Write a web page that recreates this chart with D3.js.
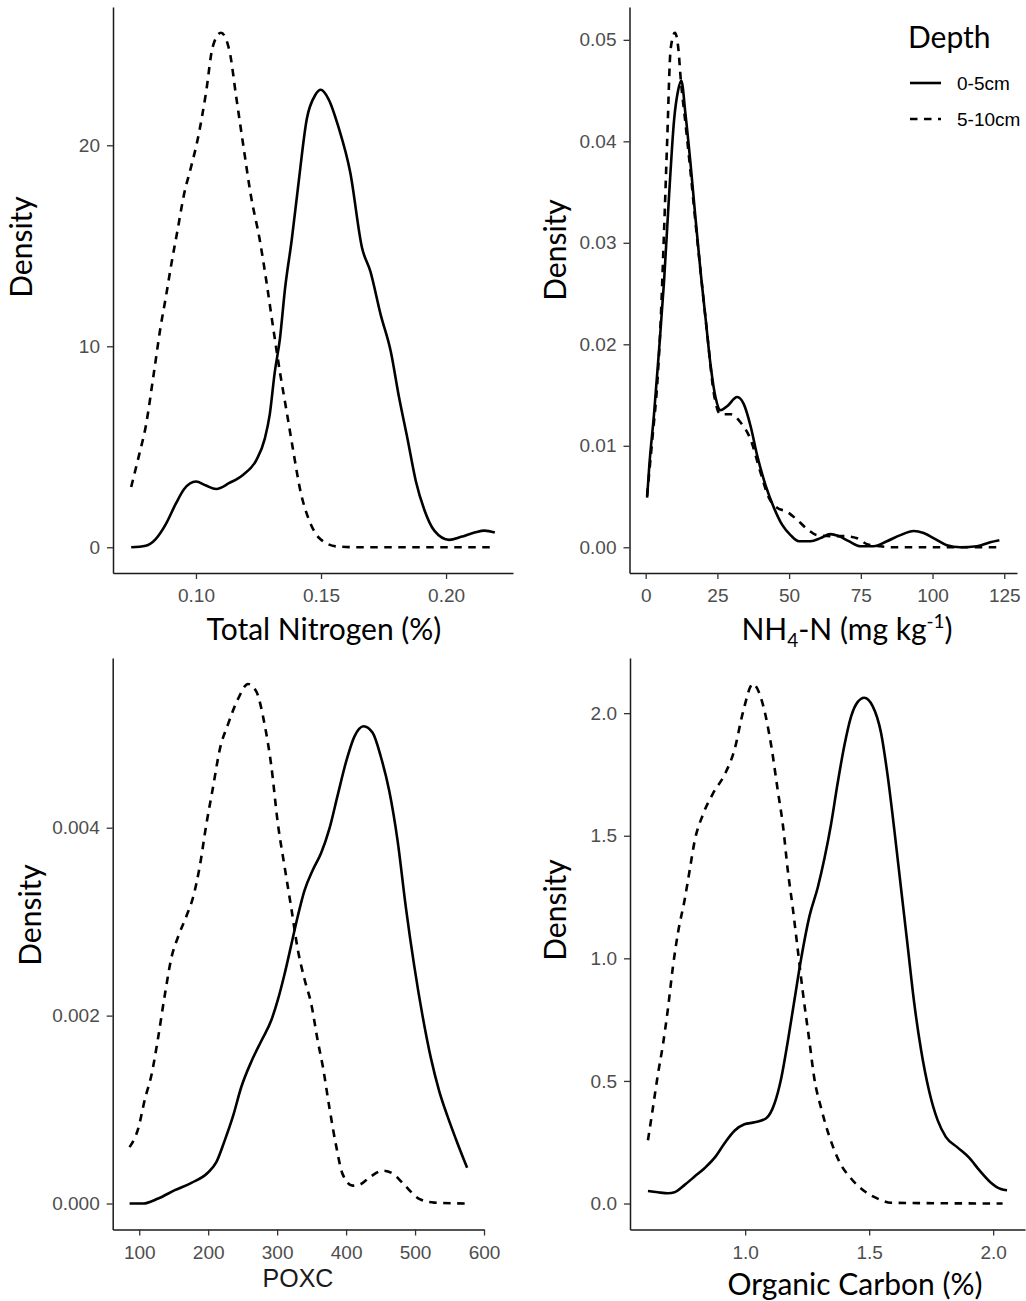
<!DOCTYPE html>
<html>
<head>
<meta charset="utf-8">
<script src="https://cdn.jsdelivr.net/npm/d3@7"></script>
<style>
  body { margin: 0; background: #ffffff; }
  svg { display: block; }
</style>
</head>
<body>
<svg id="fig" width="1026" height="1301"></svg>
<script>
// Depth groups (legend order)
const depthLevels = ["0-5cm", "5-10cm"];

// Total Nitrogen (%) kernel density, [value, density]
const tnShallow = [[0.0741,0],[0.0799,0.08],[0.0839,0.41],[0.0879,1.14],[0.092,2.18],[0.0953,2.9],[0.1,3.27],[0.104,3.07],[0.1081,2.9],[0.1134,3.2],[0.1188,3.6],[0.1242,4.35],[0.1275,5.39],[0.1295,6.6],[0.1315,8.7],[0.1336,10.4],[0.1356,12.85],[0.1383,15.3],[0.1409,18.0],[0.1443,21.3],[0.1477,22.5],[0.1499,22.76],[0.153,22.3],[0.157,20.9],[0.1617,18.65],[0.1664,14.9],[0.1698,13.7],[0.1738,11.6],[0.1779,9.74],[0.1812,7.46],[0.1846,5.39],[0.1879,3.3],[0.1913,1.87],[0.1953,0.83],[0.2013,0.37],[0.206,0.52],[0.2114,0.73],[0.2154,0.83],[0.2195,0.73]];
const tnDeep = [[0.0741,3.0],[0.0772,4.56],[0.0799,6.0],[0.0832,8.7],[0.0859,11.0],[0.0879,12.4],[0.0899,13.9],[0.0926,15.75],[0.0953,17.6],[0.098,18.9],[0.1007,20.3],[0.104,22.6],[0.1067,24.9],[0.110,25.6],[0.1134,24.7],[0.1161,22.4],[0.1188,20.1],[0.1221,17.4],[0.1255,15.3],[0.1282,13.2],[0.1309,10.9],[0.1336,8.7],[0.1362,6.8],[0.1389,4.8],[0.1416,2.9],[0.1456,1.24],[0.1497,0.41],[0.1564,0.04],[0.165,0],[0.19,0],[0.2195,0]];
const tnTicksX = [0.10, 0.15, 0.20];
const tnTicksY = [0, 10, 20];

// NH4-N (mg/kg) kernel density
const nhShallow = [[0.5,0.0049],[1.2,0.0078],[2.9,0.0131],[4.6,0.0192],[6.4,0.0262],[8.1,0.0344],[9.9,0.0421],[11.3,0.045],[12.4,0.046],[13.9,0.0426],[15.7,0.0376],[17.4,0.0323],[19.2,0.027],[20.9,0.0225],[22.6,0.018],[24.4,0.0147],[26.1,0.0135],[28.4,0.0139],[31.9,0.0148],[34.2,0.0141],[36.6,0.0119],[38.9,0.009],[41.8,0.0061],[44.7,0.0039],[47.6,0.0022],[50.5,0.0012],[53.4,0.0006],[57.5,0.0006],[60.9,0.0009],[64.4,0.0013],[67.3,0.0011],[70.8,0.0006],[74.9,0.0001],[79.5,0.0001],[84.1,0.0006],[88.8,0.0012],[93.4,0.0016],[96.9,0.0014],[101,0.0008],[105,0.0002],[109.7,0],[115.5,0.0001],[120.1,0.0005],[123.3,0.0007]];
const nhDeep = [[0.5,0.0051],[2.3,0.0106],[4.1,0.0164],[5.2,0.0221],[6.4,0.0311],[7.5,0.0401],[8.7,0.0491],[10.2,0.0507],[11.4,0.0491],[12.2,0.0462],[13.9,0.0417],[15.7,0.0368],[17.4,0.0319],[19.2,0.027],[21.5,0.0209],[23.8,0.0151],[26.1,0.0131],[29.6,0.0131],[33.1,0.0123],[36.6,0.0106],[40.0,0.0074],[42.9,0.0049],[45.8,0.0039],[49.3,0.0035],[52.8,0.0027],[56.3,0.0018],[59.8,0.0012],[64.4,0.0011],[69.1,0.0011],[73.7,0.0009],[77.2,0.0003],[81.8,0.0001],[86.5,0],[123.3,0]];
const nhTicksX = [0, 25, 50, 75, 100, 125];
const nhTicksY = [0, 0.01, 0.02, 0.03, 0.04, 0.05];

// POXC kernel density
const poxShallow = [[86,0],[105.8,0],[127.5,0.000053],[151.6,0.000142],[175.7,0.00022],[199.8,0.00033],[211.8,0.00044],[223.9,0.00067],[236,0.00093],[248,0.00124],[262.5,0.00151],[277,0.00173],[291.5,0.00195],[301.1,0.00217],[310.7,0.00244],[320.4,0.00275],[330,0.00306],[339.6,0.00333],[351.7,0.00355],[363.8,0.00373],[375.8,0.00399],[387.9,0.00435],[399.9,0.0047],[412,0.00497],[425.5,0.00508],[438.5,0.00501],[450.6,0.00475],[462.6,0.00439],[474.7,0.00386],[486.7,0.00315],[498.8,0.00253],[510.8,0.002],[522.9,0.00155],[534.9,0.0012],[547,0.00093],[559,0.00069],[575.5,0.00038]];
const poxDeep = [[86,0.0006],[98.6,0.0008],[108.2,0.00111],[117.8,0.00137],[127.5,0.00177],[137.1,0.00222],[146.8,0.00262],[156.4,0.00284],[168.5,0.00306],[178.1,0.00326],[187.8,0.00359],[197.4,0.00404],[207,0.00443],[216.7,0.00483],[228.7,0.0051],[243.2,0.00537],[257.7,0.00553],[269.7,0.00545],[281.8,0.0051],[291.5,0.00466],[301.1,0.00404],[310.7,0.00359],[320.4,0.00315],[330,0.0027],[339.6,0.00239],[349.3,0.00213],[358.9,0.00173],[366.2,0.00146],[375.8,0.00102],[385.4,0.00062],[395.1,0.00031],[409.5,0.00019],[419.2,0.0002],[436.1,0.00029],[453,0.00035],[467.4,0.00032],[484.3,0.0002],[506,0.00005],[527.7,0.00001],[575.5,0]];
const poxTicksX = [100, 200, 300, 400, 500, 600];
const poxTicksY = [0, 0.002, 0.004];

// Organic Carbon (%) kernel density
const ocShallow = [[0.608,0.051],[0.648,0.046],[0.689,0.042],[0.715,0.046],[0.756,0.076],[0.796,0.11],[0.836,0.144],[0.877,0.187],[0.917,0.246],[0.957,0.297],[0.997,0.323],[1.038,0.331],[1.085,0.348],[1.118,0.407],[1.145,0.509],[1.172,0.662],[1.199,0.832],[1.226,1.0],[1.259,1.171],[1.293,1.29],[1.32,1.409],[1.346,1.545],[1.373,1.715],[1.4,1.868],[1.427,1.986],[1.454,2.046],[1.48,2.063],[1.514,2.029],[1.548,1.919],[1.574,1.749],[1.601,1.528],[1.628,1.29],[1.655,1.053],[1.682,0.815],[1.709,0.628],[1.742,0.458],[1.776,0.34],[1.809,0.272],[1.856,0.229],[1.903,0.187],[1.944,0.136],[1.991,0.085],[2.031,0.059],[2.056,0.054]];
const ocDeep = [[0.608,0.258],[0.628,0.39],[0.648,0.526],[0.668,0.645],[0.689,0.798],[0.709,0.968],[0.729,1.104],[0.756,1.239],[0.776,1.358],[0.796,1.477],[0.83,1.587],[0.87,1.672],[0.917,1.749],[0.957,1.851],[0.991,2.003],[1.031,2.119],[1.071,2.037],[1.105,1.868],[1.132,1.681],[1.152,1.545],[1.172,1.358],[1.192,1.205],[1.212,1.036],[1.232,0.866],[1.259,0.662],[1.279,0.509],[1.306,0.39],[1.34,0.272],[1.38,0.17],[1.427,0.102],[1.48,0.051],[1.541,0.017],[1.588,0.003],[2.038,0]];
const ocTicksX = [1.0, 1.5, 2.0];
const ocTicksY = [0, 0.5, 1.0, 1.5, 2.0];

// Panel layout: plot-area box in page pixels plus tick formats
const panels = [
  { series: [tnShallow, tnDeep], xt: tnTicksX, yt: tnTicksY, xf: d3.format(".2f"), yf: d3.format("d"),
    x0: 113, x1: 513, y0: 573, y1: 7 },
  { series: [nhShallow, nhDeep], xt: nhTicksX, yt: nhTicksY, xf: d3.format("d"), yf: d3.format(".2f"),
    x0: 629.5, x1: 1017, y0: 573, y1: 7 },
  { series: [poxShallow, poxDeep], xt: poxTicksX, yt: poxTicksY, xf: d3.format("d"), yf: d3.format(".3f"),
    x0: 112.7, x1: 484, y0: 1229.5, y1: 658 },
  { series: [ocShallow, ocDeep], xt: ocTicksX, yt: ocTicksY, xf: d3.format(".1f"), yf: d3.format(".1f"),
    x0: 630, x1: 1025, y0: 1229.5, y1: 658 }
];

const svg = d3.select("#fig");
const tickFont = "'Liberation Sans', Arial, sans-serif";
const titleFont = "Lato, 'Open Sans', sans-serif";
const dashPattern = "7.5,6.5";
const lineWidth = 2.6;

// Expand a [min, max] extent by 5% on each side
function expand(ext) {
  const pad = (ext[1] - ext[0]) * 0.05;
  return [ext[0] - pad, ext[1] + pad];
}

panels.forEach(p => {
  const all = p.series.flat();
  const x = d3.scaleLinear()
    .domain(expand(d3.extent(all, d => d[0])))
    .range([p.x0, p.x1]);
  const y = d3.scaleLinear()
    .domain(expand([0, d3.max(all, d => d[1])]))
    .range([p.y0, p.y1]);

  const g = svg.append("g");

  const xAxis = g.append("g")
    .attr("transform", `translate(0,${p.y0})`)
    .call(d3.axisBottom(x).tickValues(p.xt).tickFormat(p.xf)
      .tickSize(6).tickSizeOuter(0).tickPadding(10));
  const yAxis = g.append("g")
    .attr("transform", `translate(${p.x0},0)`)
    .call(d3.axisLeft(y).tickValues(p.yt).tickFormat(p.yf)
      .tickSize(6).tickSizeOuter(0).tickPadding(7));

  [xAxis, yAxis].forEach(a => {
    a.select(".domain").attr("stroke", "#1a1a1a").attr("stroke-width", 1.5);
    a.selectAll(".tick line").attr("stroke", "#333333").attr("stroke-width", 1.3);
    a.selectAll(".tick text")
      .attr("fill", "#4d4d4d")
      .style("font-family", tickFont)
      .style("font-size", "19px");
  });

  const line = d3.line()
    .x(d => x(d[0]))
    .y(d => y(d[1]))
    .curve(d3.curveMonotoneX);

  p.series.forEach((s, i) => {
    g.append("path")
      .datum(s)
      .attr("fill", "none")
      .attr("stroke", "#000")
      .attr("stroke-width", lineWidth)
      .attr("stroke-linejoin", "round")
      .attr("stroke-dasharray", i === 1 ? dashPattern : null)
      .attr("d", line);
  });
});

// Axis titles
function title(txt, x, yPos, opts = {}) {
  return svg.append("text")
    .attr("x", x).attr("y", yPos)
    .attr("text-anchor", "middle")
    .attr("fill", opts.fill || "#000")
    .style("font-family", opts.font || titleFont)
    .style("font-size", (opts.size || 30) + "px")
    .text(txt);
}

title("Total Nitrogen (%)", 324, 640);
const nh = title("", 847, 640);
nh.append("tspan").text("NH");
nh.append("tspan").attr("dy", 7).style("font-size", "19px").text("4");
nh.append("tspan").attr("dy", -7).text("-N (mg kg");
nh.append("tspan").attr("dy", -12).style("font-size", "19px").text("-1");
nh.append("tspan").attr("dy", 12).text(")");
title("POXC", 298, 1287, { font: tickFont, size: 25, fill: "#1a1a1a" });
title("Organic Carbon (%)", 855, 1295);

// Rotated y-axis titles
[[32, 247], [566, 250], [41, 915], [566, 910]].forEach(([cx, cy]) => {
  svg.append("text")
    .attr("transform", `translate(${cx},${cy}) rotate(-90)`)
    .attr("text-anchor", "middle")
    .style("font-family", titleFont)
    .style("font-size", "30px")
    .text("Density");
});

// Legend
const legend = svg.append("g");
legend.append("text")
  .attr("x", 908).attr("y", 48)
  .style("font-family", titleFont)
  .style("font-size", "30px")
  .text("Depth");
depthLevels.forEach((lab, i) => {
  const yy = 83 + i * 36;
  legend.append("line")
    .attr("x1", 910).attr("x2", 941).attr("y1", yy).attr("y2", yy)
    .attr("stroke", "#000").attr("stroke-width", lineWidth)
    .attr("stroke-dasharray", i === 1 ? dashPattern : null);
  legend.append("text")
    .attr("x", 957).attr("y", yy + 7)
    .style("font-family", tickFont)
    .style("font-size", "19px")
    .text(lab);
});
</script>
</body>
</html>
